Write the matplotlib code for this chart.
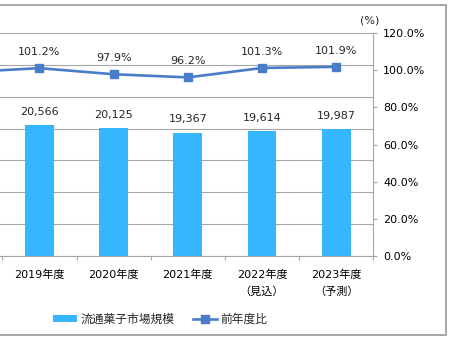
import numpy as np
import matplotlib
matplotlib.use("Agg")
import matplotlib.pyplot as plt
from matplotlib.patches import Rectangle
from matplotlib.ticker import FuncFormatter, MultipleLocator

plt.rcParams['font.family'] = ['DejaVu Sans', 'Noto Sans CJK JP']
plt.rcParams['font.size'] = 8
plt.rcParams['text.color'] = '#262626'

# 流通菓子市場規模（億円）と前年度比（%）; 2018年度 only anchors the line's left end
years = ['2018年度', '2019年度', '2020年度', '2021年度',
         '2022年度\n（見込）', '2023年度\n（予測）']
market = [np.nan, 20566, 20125, 19367, 19614, 19987]
ratio = [99.0, 101.2, 97.9, 96.2, 101.3, 101.9]

bar_color = '#35B6FF'
line_color = '#4A7DC9'
grid_color = '#A6A6A6'

fig = plt.figure(figsize=(4.5, 3.38), dpi=100)
W, H = 450, 338
x0, x1 = -71.9, 373.3
y0, y1 = 255.7, 33.3
ax = fig.add_axes([x0 / W, (H - y0) / H, (x1 - x0) / W, (y0 - y1) / H])
ax2 = ax.twinx()

x = np.arange(len(years))
ax.bar(x, market, width=0.39, color=bar_color, zorder=2)
for xi, v in zip(x[1:], market[1:]):
    ax.annotate(f'{v:,.0f}', (xi, v), xytext=(0, 9.5), textcoords='offset points',
                ha='center', va='center', fontsize=8)

ax.set_xlim(-0.5, len(years) - 0.5)
ax.set_ylim(0, 35000)
ax.yaxis.set_major_locator(MultipleLocator(5000))
ax.grid(axis='y', color=grid_color, lw=0.8, zorder=0)
ax.set_axisbelow(True)
ax.tick_params(axis='y', left=False, labelleft=False)
ax.set_xticks(x[1:])
ax.set_xticklabels(years[1:], fontsize=8, linespacing=1.75)
ax.set_xticks(np.arange(-0.5, len(years)), minor=True)
ax.tick_params(axis='x', which='major', length=0, pad=10)
ax.tick_params(axis='x', which='minor', length=3, color=grid_color, width=0.8)

ax2.plot(x, ratio, color=line_color, lw=1.9, marker='s', markersize=5.5, zorder=3)
for xi, v in zip(x[1:], ratio[1:]):
    ax2.annotate(f'{v:.1f}%', (xi, v), xytext=(0, 11.5), textcoords='offset points',
                 ha='center', va='center', fontsize=8)
ax2.set_ylim(0, 120)
ax2.yaxis.set_major_locator(MultipleLocator(20))
ax2.yaxis.set_major_formatter(FuncFormatter(lambda v, p: f'{v:.1f}%'))
ax2.tick_params(axis='y', length=3, color=grid_color, width=0.8, pad=4, labelsize=8)

for a in (ax, ax2):
    for s in ('left', 'top'):
        a.spines[s].set_visible(False)
    a.spines['right'].set_color(grid_color)
    a.spines['right'].set_linewidth(0.8)
    a.spines['bottom'].set_color(grid_color)
    a.spines['bottom'].set_linewidth(0.8)
ax.spines['right'].set_visible(False)
ax2.spines['bottom'].set_visible(False)

fig.text(370 / W, 1 - 20.7 / H, '(%)', ha='center', va='center', fontsize=8)

handles = [ax.patches[1], ax2.lines[0]]
fig.legend(handles, ['流通菓子市場規模', '前年度比'], loc='center',
           bbox_to_anchor=(160 / W, 1 - 319 / H), ncol=2, frameon=False,
           handlelength=2.0, handleheight=0.5, handletextpad=0.3,
           columnspacing=1.6, fontsize=8.5)

fig.patches.append(Rectangle((-0.05, 1 / H * 3), 445.7 / W + 0.05, 1 - 7.5 / H,
                             transform=fig.transFigure, fill=False,
                             edgecolor='#A0A0A0', lw=1.3))

fig.savefig('out.png', dpi=100)
